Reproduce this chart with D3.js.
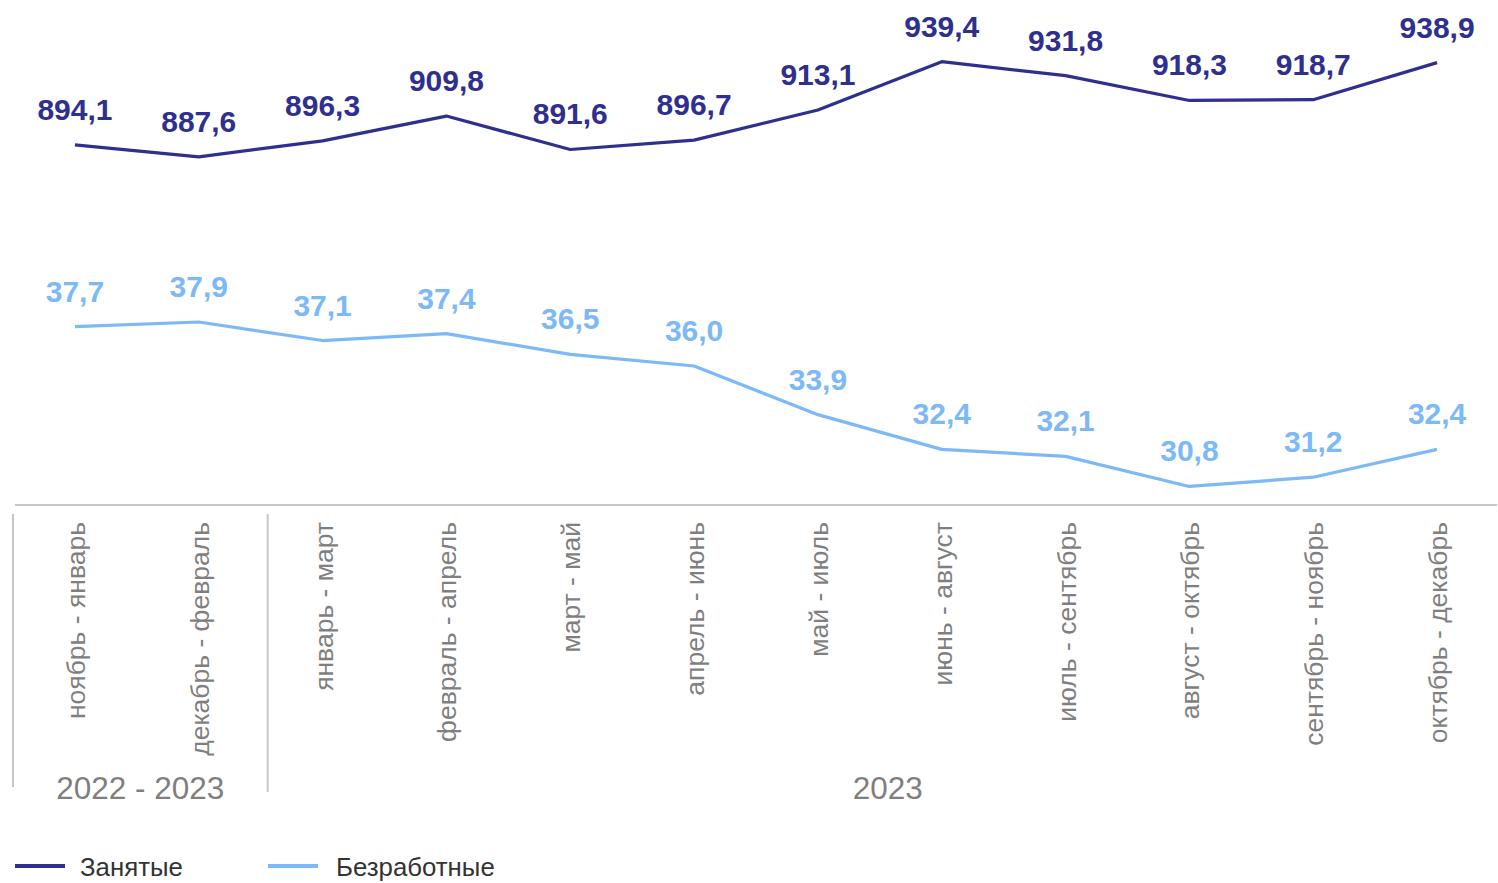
<!DOCTYPE html>
<html>
<head>
<meta charset="utf-8">
<script src="https://cdn.jsdelivr.net/npm/d3@7"></script>
<style>
  body { margin: 0; background: #fff; }
  svg { display: block; font-family: "Liberation Sans", Arial, sans-serif; }
</style>
</head>
<body>
<div id="chart"></div>
<script>
// data
const categories = [
  "ноябрь - январь", "декабрь - февраль", "январь - март", "февраль - апрель",
  "март - май", "апрель - июнь", "май - июль", "июнь - август",
  "июль - сентябрь", "август - октябрь", "сентябрь - ноябрь", "октябрь - декабрь"
];
const employed = [894.1, 887.6, 896.3, 909.8, 891.6, 896.7, 913.1, 939.4, 931.8, 918.3, 918.7, 938.9];
const unemployed = [37.7, 37.9, 37.1, 37.4, 36.5, 36.0, 33.9, 32.4, 32.1, 30.8, 31.2, 32.4];
const groups = [
  { label: "2022 - 2023", from: 0, to: 2 },
  { label: "2023", from: 2, to: 12 }
];
const seriesNames = ["Занятые", "Безработные"];

const W = 1498, H = 883;
const dark = "#2e2f8e", light = "#7cb9f6";
const gray = "#7f7f7f", rule = "#c6c6c6";
const fmt = v => v.toFixed(1).replace(".", ",");

const svg = d3.select("#chart").append("svg")
  .attr("width", W).attr("height", H);

// scales
const x = d3.scaleBand().domain(categories).range([13, 1499]);
const cx = d => x(d) + x.bandwidth() / 2;
const axisY = 505;
const yEmp = d3.scaleLinear().domain([698, 973]).range([axisY, 0]);
const yUnemp = d3.scaleLinear().domain([30, 51.8]).range([axisY, 0]);

// =========================
// AXIS + CATEGORY LABELS
// =========================
svg.append("line")
  .attr("x1", 15).attr("x2", 1497)
  .attr("y1", axisY).attr("y2", axisY)
  .attr("stroke", rule).attr("stroke-width", 2);

svg.append("g").selectAll("text")
  .data(categories)
  .join("text")
  .attr("transform", d => `translate(${cx(d) + 10},522) rotate(-90)`)
  .attr("text-anchor", "end")
  .attr("fill", gray)
  .style("font-size", "26.5px")
  .text(d => d);

// group separators + year labels
const sepOffset = [0, 7];
groups.forEach((g, i) => {
  const left = x(categories[g.from]) + sepOffset[i];
  svg.append("line")
    .attr("x1", left).attr("x2", left)
    .attr("y1", 514).attr("y2", i === 0 ? 787 : 792)
    .attr("stroke", rule).attr("stroke-width", 2);
  const right = g.to < categories.length ? x(categories[g.to]) + sepOffset[i + 1] : x.range()[1] + 9;
  svg.append("text")
    .attr("x", (left + right) / 2)
    .attr("y", 799)
    .attr("text-anchor", "middle")
    .attr("fill", gray)
    .style("font-size", "31.5px")
    .text(g.label);
});

// =========================
// LINES + LABELS
// =========================
function drawSeries(values, y, color) {
  const pts = categories.map((c, i) => ({ c, v: values[i] }));
  svg.append("path")
    .datum(pts)
    .attr("fill", "none")
    .attr("stroke", color)
    .attr("stroke-width", 3.2)
    .attr("stroke-linejoin", "round")
    .attr("d", d3.line().x(d => cx(d.c)).y(d => y(d.v)));

  svg.append("g").selectAll("text")
    .data(pts)
    .join("text")
    .attr("x", d => cx(d.c))
    .attr("y", d => y(d.v) - 25)
    .attr("text-anchor", "middle")
    .attr("fill", color)
    .style("font-size", "30px")
    .style("font-weight", "bold")
    .text(d => fmt(d.v));
}
drawSeries(employed, yEmp, dark);
drawSeries(unemployed, yUnemp, light);

// =========================
// LEGEND
// =========================
const legend = svg.append("g").attr("transform", "translate(15,866)");
[dark, light].forEach((col, i) => {
  const g = legend.append("g").attr("transform", `translate(${i * 253},0)`);
  g.append("line").attr("x1", 0).attr("x2", 50)
    .attr("stroke", col).attr("stroke-width", 4);
  g.append("text").attr("x", 65 + i * 3).attr("y", 10)
    .attr("fill", "#333")
    .style("font-size", "25.8px")
    .text(seriesNames[i]);
});
</script>
</body>
</html>
